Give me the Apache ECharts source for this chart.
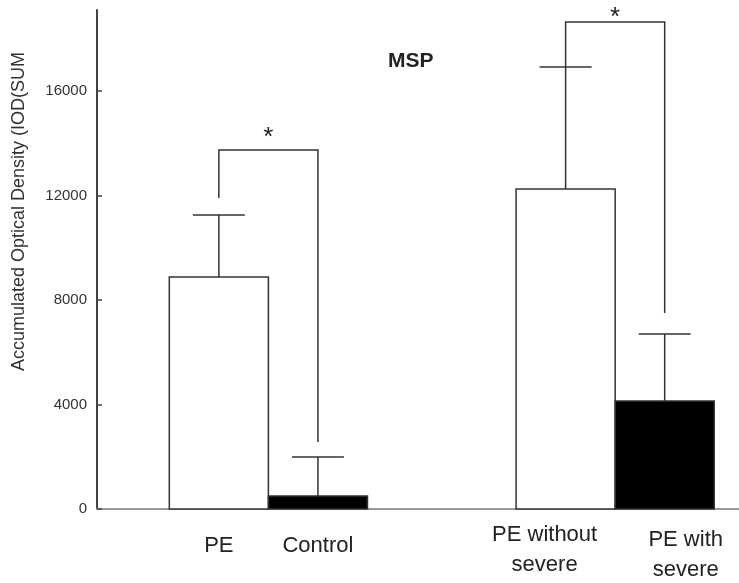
<!DOCTYPE html>
<html>
<head>
<meta charset="utf-8">
<script src="https://cdn.jsdelivr.net/npm/echarts@6/dist/echarts.min.js"></script>
<style>
html,body{margin:0;padding:0;background:#fff;}
#chart{width:739px;height:583px;}
</style>
</head>
<body>
<div id="chart"></div>
<script>
// ---- data ----
const categories = ['PE', 'Control', 'PE without\nsevere', 'PE with\nsevere'];
const meanValues = [8880, 500, 12250, 4130];
const upperValues = [11250, 1990, 16920, 6700];          // mean + SD
const yTickValues = [0, 4000, 8000, 12000, 16000];
const bracketPairs = [[0, 1], [2, 3]];
const bracketTopValues = [13740, 18640];
const bracketLegEndValues = [[11900, 2560], [16920, 7500]];
const starValues = [14470, 19060];
const starLabels = ['*', '*'];
const titleText = 'MSP';
const yAxisTitle = 'Accumulated Optical Density (IOD(SUM';

// ---- layout (style, not data) ----
const slotPositions = [1, 2, 4.5, 5.5];
const barColors = ['#ffffff', '#000000', '#ffffff', '#000000'];
const capHalfWidth = 26;
const starDy = 7;
const FONT = '"Liberation Sans", Arial, sans-serif';
const LINE = '#333';
const labelStyleKeys = ['c', 'c', 'l', 'r'];
const labelAxisOf = [0, 0, 0, 1];   // which x axis carries each label (avoids overlap hiding)

const chart = echarts.init(document.getElementById('chart'));

const rich = {
  c: { fontFamily: FONT, fontSize: 22, color: '#222', lineHeight: 30, padding: [22, 0, 0, 0] },
  l: { fontFamily: FONT, fontSize: 22, color: '#222', lineHeight: 30, padding: [0, 42, 0, 0] },
  r: { fontFamily: FONT, fontSize: 22, color: '#222', lineHeight: 30, padding: [10, 0, 0, 42] }
};

function makeXAxis(axisIdx) {
  const vals = slotPositions.filter((p, i) => labelAxisOf[i] === axisIdx);
  return {
    type: 'value',
    position: 'bottom',
    offset: 0,
    min: -0.23, max: 6.25,
    splitLine: { show: false },
    axisTick: { show: false },
    axisLine: { show: axisIdx === 0, onZero: false, lineStyle: { color: '#999', width: 2 } },
    axisLabel: {
      customValues: vals,
      margin: 11,
      hideOverlap: false,
      showMinLabel: true,
      showMaxLabel: true,
      formatter: function (v) {
        const i = slotPositions.indexOf(v);
        if (i < 0) return '';
        const k = labelStyleKeys[i];
        return categories[i].split('\n').map(s => '{' + k + '|' + s + '}').join('\n');
      },
      rich: rich
    }
  };
}

const option = {
  backgroundColor: '#fff',
  animation: false,
  title: {
    text: titleText,
    left: 388, top: 51, padding: 0,
    textStyle: { fontFamily: FONT, fontSize: 21, fontWeight: 'bold', color: '#222' }
  },
  grid: { left: 97, right: 0, top: 10, bottom: 74, outerBoundsMode: 'none', containLabel: false },
  xAxis: [makeXAxis(0), makeXAxis(1)],
  yAxis: {
    type: 'value',
    min: 0, max: 19100, interval: 4000,
    splitLine: { show: false },
    axisLine: { show: true, onZero: false, lineStyle: { color: '#444', width: 2 } },
    axisTick: { show: true, inside: true, length: 5, customValues: yTickValues, lineStyle: { color: '#444', width: 1.5 } },
    axisLabel: {
      customValues: yTickValues, margin: 10, fontFamily: FONT, fontSize: 15, color: '#333',
      formatter: function (v) { return String(v); }
    },
    name: yAxisTitle,
    nameLocation: 'middle',
    nameRotate: 90,
    nameGap: 69,
    nameTextStyle: { fontFamily: FONT, fontSize: 18, color: '#333', padding: [0, 0, 0, 96] }
  },
  series: [
    {
      type: 'custom',
      name: 'bars',
      clip: false,
      xAxisIndex: 0,
      data: meanValues.map((v, i) => [slotPositions[i], v, i]),
      renderItem: function (params, api) {
        const x = api.value(0), y = api.value(1), i = api.value(2);
        const p0 = api.coord([x - 0.5, y]);
        const p1 = api.coord([x + 0.5, 0]);
        return {
          type: 'rect',
          shape: { x: p0[0], y: p0[1], width: p1[0] - p0[0], height: p1[1] - p0[1] },
          style: { fill: barColors[i], stroke: LINE, lineWidth: 1.5 }
        };
      },
      z: 2
    },
    {
      type: 'custom',
      name: 'error',
      clip: false,
      xAxisIndex: 0,
      data: meanValues.map((v, i) => [slotPositions[i], v, upperValues[i]]),
      renderItem: function (params, api) {
        const x = api.value(0);
        const a = api.coord([x, api.value(1)]);
        const b = api.coord([x, api.value(2)]);
        return {
          type: 'group',
          children: [
            { type: 'line', shape: { x1: a[0], y1: a[1], x2: b[0], y2: b[1] }, style: { stroke: LINE, lineWidth: 1.5 } },
            { type: 'line', shape: { x1: b[0] - capHalfWidth, y1: b[1], x2: b[0] + capHalfWidth, y2: b[1] }, style: { stroke: LINE, lineWidth: 1.5 } }
          ]
        };
      },
      z: 3
    },
    {
      type: 'custom',
      name: 'brackets',
      clip: false,
      xAxisIndex: 0,
      data: bracketPairs.map((p, k) => [slotPositions[p[0]], slotPositions[p[1]], bracketTopValues[k], bracketLegEndValues[k][0], bracketLegEndValues[k][1]]),
      renderItem: function (params, api) {
        const xa = api.value(0), xb = api.value(1), top = api.value(2);
        const pts = [
          api.coord([xa, api.value(3)]),
          api.coord([xa, top]),
          api.coord([xb, top]),
          api.coord([xb, api.value(4)])
        ];
        return { type: 'polyline', shape: { points: pts }, style: { stroke: LINE, lineWidth: 1.5, fill: null } };
      },
      z: 3
    },
    {
      type: 'custom',
      name: 'stars',
      clip: false,
      xAxisIndex: 0,
      data: bracketPairs.map((p, k) => [(slotPositions[p[0]] + slotPositions[p[1]]) / 2, starValues[k], k]),
      renderItem: function (params, api) {
        const c = api.coord([api.value(0), api.value(1)]);
        return {
          type: 'text',
          x: c[0], y: c[1] + starDy,
          style: { text: starLabels[api.value(2)], fontFamily: FONT, fontSize: 26, fill: '#222', align: 'center', verticalAlign: 'middle' }
        };
      },
      z: 4
    }
  ]
};
chart.setOption(option);
</script>
</body>
</html>
